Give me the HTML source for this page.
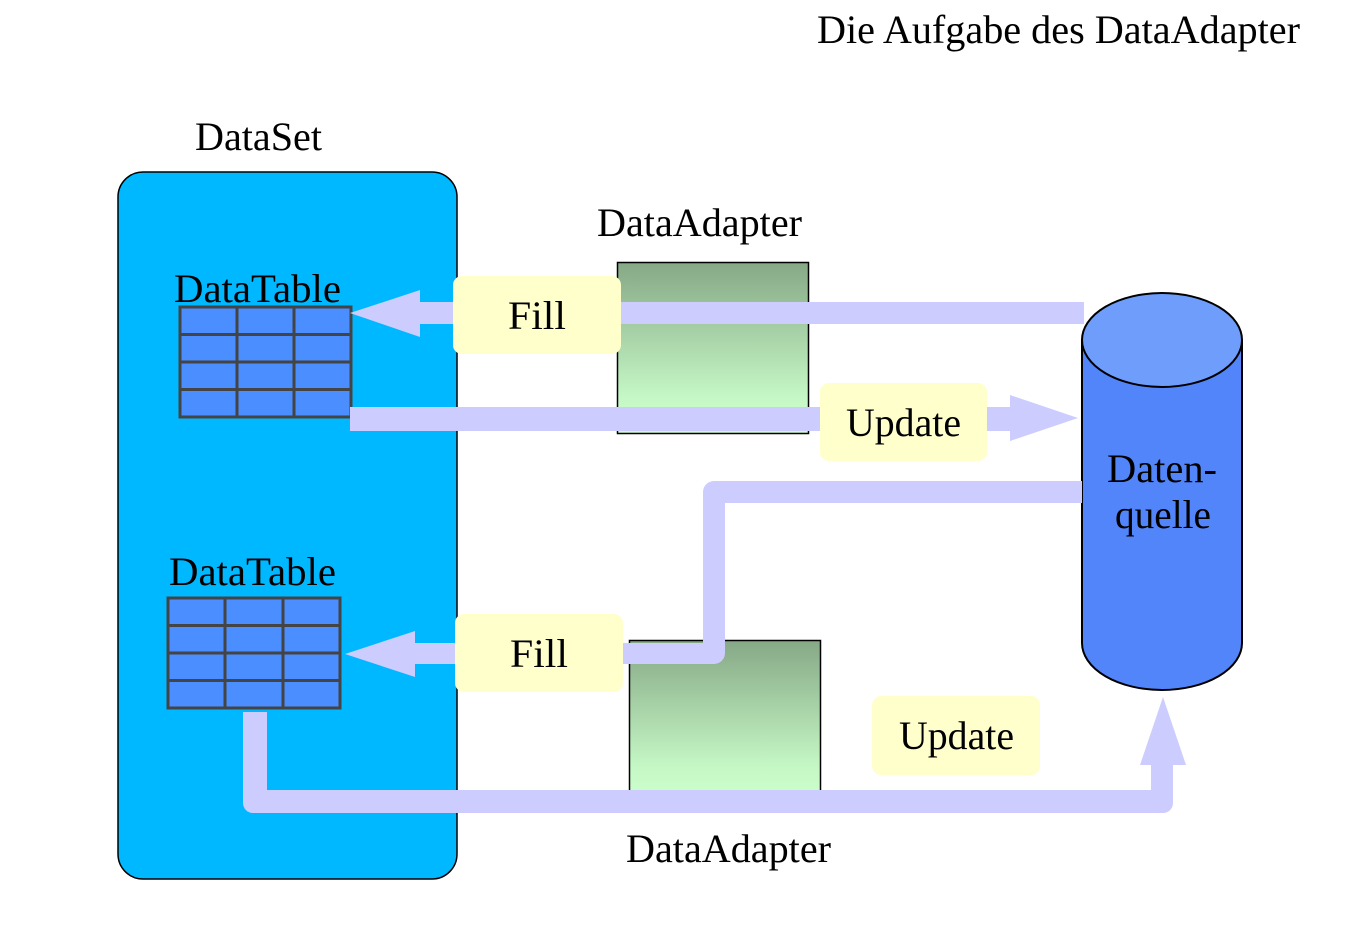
<!DOCTYPE html>
<html><head><meta charset="utf-8"><style>
html,body{margin:0;padding:0;background:#fff;}
svg{display:block;}
text{font-family:"Liberation Serif",serif;font-size:40px;fill:#000;}
</style></head><body>
<svg width="1362" height="950" viewBox="0 0 1362 950" xmlns="http://www.w3.org/2000/svg">
<defs>
<linearGradient id="g" x1="0" y1="0" x2="0" y2="1">
<stop offset="0" stop-color="#86A886"/><stop offset="0.8" stop-color="#C6F8C6"/><stop offset="1" stop-color="#CCFFCC"/>
</linearGradient>
</defs>
<text x="817" y="43" textLength="483" lengthAdjust="spacingAndGlyphs">Die Aufgabe des DataAdapter</text>
<text x="195" y="150" textLength="127" lengthAdjust="spacingAndGlyphs">DataSet</text>
<rect x="118" y="172" width="339" height="707" rx="25" fill="#00B8FF" stroke="#000" stroke-width="1.5"/>
<text x="597" y="236" textLength="205" lengthAdjust="spacingAndGlyphs">DataAdapter</text>
<rect x="617.5" y="262.5" width="191" height="171" fill="url(#g)" stroke="#000" stroke-width="1.5"/>
<rect x="629.5" y="640.5" width="191" height="160" fill="url(#g)" stroke="#000" stroke-width="1.5"/>
<text x="626" y="862" textLength="205" lengthAdjust="spacingAndGlyphs">DataAdapter</text>
<text x="174" y="302" textLength="167" lengthAdjust="spacingAndGlyphs">DataTable</text>
<g stroke="#444" stroke-width="3" fill="#4A8EFF">
<rect x="180" y="307" width="171" height="110"/>
<path d="M237 307V417M294 307V417M180 334.5H351M180 362H351M180 389.5H351" fill="none"/>
</g>
<text x="169" y="585" textLength="167" lengthAdjust="spacingAndGlyphs">DataTable</text>
<g stroke="#444" stroke-width="3" fill="#4A8EFF">
<rect x="168" y="598" width="172" height="110"/>
<path d="M225 598V708M283 598V708M168 625.5H340M168 653H340M168 680.5H340" fill="none"/>
</g>
<path d="M1082 340 V643 A80 47 0 0 0 1242 643 V340 Z" fill="#5285FA" stroke="#000" stroke-width="2"/>
<ellipse cx="1162" cy="340" rx="80" ry="47" fill="#6E9DFB" stroke="#000" stroke-width="2"/>
<text x="1107" y="482" textLength="110" lengthAdjust="spacingAndGlyphs">Daten-</text>
<text x="1115" y="528" textLength="96" lengthAdjust="spacingAndGlyphs">quelle</text>
<g fill="#CCCCFF">
<rect x="420" y="302" width="664" height="22"/>
<polygon points="350,313 420,290 420,337"/>
<rect x="350" y="407" width="660" height="24"/>
<polygon points="1010,395 1078,418 1010,441"/>
<path d="M1082 481 H714 A11 11 0 0 0 703 492 V643 H415 V664 H714 A11 11 0 0 0 725 653 V503 H1082 Z"/>
<polygon points="345,654 415,631 415,677"/>
<path d="M243 712 H267 V790 H1151 V765 H1173 V803 A10 10 0 0 1 1163 813 H253 A10 10 0 0 1 243 803 Z"/>
<polygon points="1140,765 1186,765 1163,697"/>
</g>
<g fill="#FFFFCC">
<rect x="453" y="276" width="168" height="78" rx="9"/>
<rect x="820" y="383" width="167" height="78" rx="9"/>
<rect x="455" y="614" width="168" height="78" rx="9"/>
<rect x="872" y="696" width="168" height="79" rx="9"/>
</g>
<text x="508" y="329" textLength="58" lengthAdjust="spacingAndGlyphs">Fill</text>
<text x="846" y="436" textLength="115" lengthAdjust="spacingAndGlyphs">Update</text>
<text x="510" y="667" textLength="58" lengthAdjust="spacingAndGlyphs">Fill</text>
<text x="899" y="749" textLength="115" lengthAdjust="spacingAndGlyphs">Update</text>
</svg>
</body></html>
